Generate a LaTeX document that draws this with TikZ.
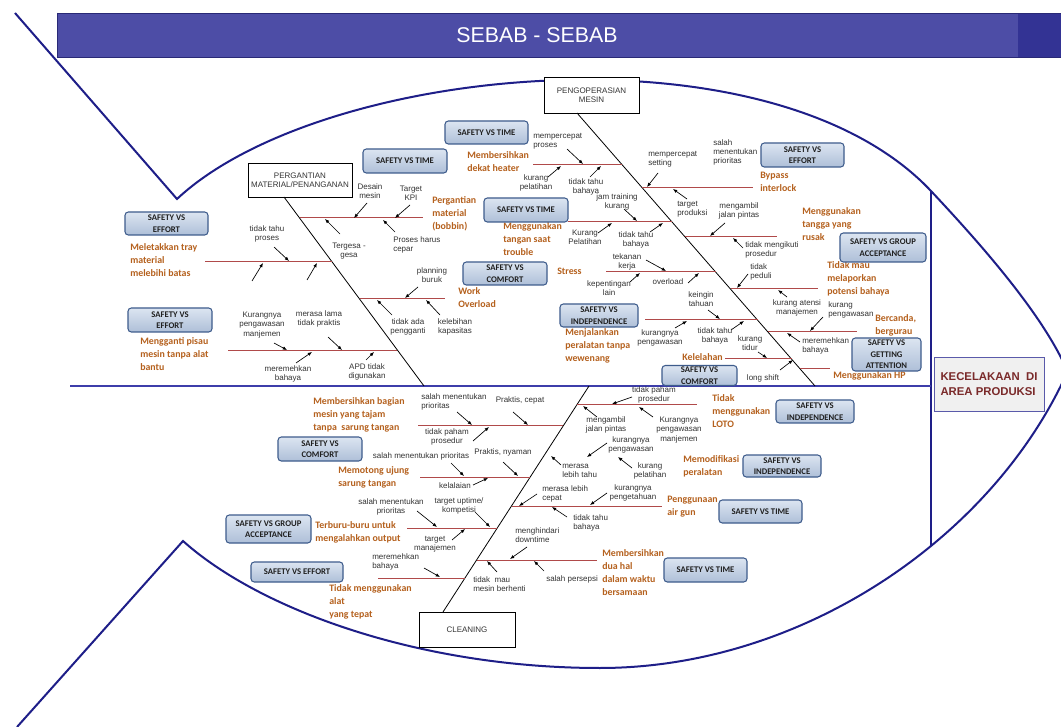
\documentclass[tikz,border=0pt]{standalone}
\usepackage{fontspec}
\setmainfont{Liberation Sans}
\newfontfamily\calfont{Carlito}
\usetikzlibrary{arrows.meta}

\definecolor{fishblue}{HTML}{1E1E88}
\definecolor{spineblue}{HTML}{3D3DAA}
\definecolor{ribred}{HTML}{B04A4A}
\definecolor{causeorange}{HTML}{B5611E}
\definecolor{boxedge}{HTML}{3E5C8C}
\definecolor{boxtop}{HTML}{DCE5F1}
\definecolor{boxbottom}{HTML}{AEBFD8}
\definecolor{bannerfill}{HTML}{4D4DA6}
\definecolor{bannerdark}{HTML}{333394}
\definecolor{headred}{HTML}{7A2A2A}
\definecolor{headedge}{HTML}{5A5AAA}
\definecolor{labelgray}{HTML}{333333}

\tikzset{
  lbl/.style={font=\fontsize{6}{7}\selectfont, text=labelgray, align=center, inner sep=0pt},
  lbll/.style={lbl, align=left, anchor=north west},
  cause/.style={font=\calfont\bfseries\fontsize{7.4}{9.75}\selectfont, text=causeorange,
    align=left, inner sep=0pt, anchor=north west},
  svbox/.style={draw=boxedge, line width=0.8pt, rounded corners=2.5pt, top color=boxtop,
    bottom color=boxbottom, font=\calfont\bfseries\fontsize{6.5}{8.6}\selectfont,
    text=black!88, align=center, inner sep=0pt},
  catbox/.style={draw=black, line width=0.7pt, fill=white, font=\fontsize{6}{7}\selectfont,
    text=labelgray, align=center, inner sep=0pt},
  pointer/.style={-{Latex[length=3.2pt,width=2.6pt]}, line width=0.5pt, black},
  ribline/.style={ribred, line width=0.75pt},
  boneline/.style={black, line width=0.6pt},
  fish/.style={fishblue, line width=1.5pt},
}

% horizontal rib: name, left x, right x, y
\newcommand\rib[4]{\coordinate (#1a) at (#2,#4); \coordinate (#1b) at (#3,#4);
  \draw[ribline] (#1a) -- (#1b);}
% small pointer arrow: name, tail x, tail y, head x, head y
\newcommand\pointto[5]{\coordinate (#1t) at (#2,#3); \coordinate (#1h) at (#4,#5);
  \draw[pointer] (#1t) -- (#1h);}
% category box: name, x, y, width px, height px, text
\newcommand\svb[6]{\node[svbox, minimum width={#4*0.75pt}, minimum height={#5*0.75pt}] (#1) at (#2,#3) {#6};}

\begin{document}
\begin{tikzpicture}[x=0.75pt, y=-0.75pt]
\useasboundingbox (0,0) rectangle (1061,727);
\fill[white] (0,0) rectangle (1061,727);

% title banner
\fill[bannerfill] (57,13) rectangle (1061,57);
\fill[bannerdark] (1018,13) rectangle (1061,57);
\draw[bannerdark!80!black, line width=0.6pt] (57,13) -- (1061,13) (57,57) -- (1061,57) (57,13) -- (57,57);
\node[font=\fontsize{16}{16}\selectfont, text=white] (title) at (537,35) {SEBAB - SEBAB};

% fish outline
\coordinate (tailtop) at (15,13);
\coordinate (tailup) at (177,199);
\coordinate (headup) at (931,191);
\coordinate (headright) at (1066,368);
\coordinate (headrightlow) at (1066,375);
\coordinate (belly) at (600,668);
\coordinate (taildown) at (183,541);
\coordinate (tailbottom) at (17,727);
\coordinate (headlow) at (931,546);
\draw[fish] (tailtop) -- (tailup) .. controls (320,65) and (770,20) .. (headup)
  .. controls (975,238) and (1040,310) .. (headright);
\draw[fish] (tailbottom) -- (taildown) .. controls (260,610) and (420,668) .. (belly)
  .. controls (800,668) and (990,540) .. (headrightlow);
\draw[fish] (headup) -- (headlow);

% spine
\coordinate (spinestart) at (70,386);
\coordinate (spineend) at (931,386);
\draw[spineblue, line width=1.1pt] (spinestart) -- (spineend);

% effect box
\node[draw=headedge, line width=0.7pt, fill=black!6, minimum width=82.5pt, minimum height=40.5pt,
  font=\bfseries\fontsize{8.5}{11.8}\selectfont, text=headred, align=left, inner sep=0pt]
  (effect) at (989,384) {KECELAKAAN\ \ DI\\AREA PRODUKSI};

% main category boxes
\node[catbox, minimum width=71.25pt, minimum height=27pt] (catop) at (591.5,95) {PENGOPERASIAN\\MESIN};
\node[catbox, minimum width=78pt, minimum height=25.5pt] (catmat) at (300,180) {PERGANTIAN\\MATERIAL/PENANGANAN};
\node[catbox, minimum width=72pt, minimum height=26.25pt] (catclean) at (467,629.5) {CLEANING};

% bones
\coordinate (opTop) at (577,113); \coordinate (opEnd) at (815,386);
\coordinate (matTop) at (284,197); \coordinate (matEnd) at (424,386);
\coordinate (clBot) at (443,612); \coordinate (clEnd) at (589,386);
\draw[boneline] (opTop) -- (opEnd);
\draw[boneline] (matTop) -- (matEnd);
\draw[boneline] (clBot) -- (clEnd);

% ribs of the machine operation bone
\rib{rA}{533}{622.3}{165}
\rib{rB}{568}{672}{222}
\rib{rC}{606}{715.6}{272}
\rib{rD}{645}{757.5}{320}
\rib{rE}{725}{791.5}{359}
\rib{rF}{642.4}{753}{188}
\rib{rG}{685}{777}{237}
\rib{rH}{730.5}{818}{289}
\rib{rI}{768}{857}{332}
\rib{rJ}{800}{830}{369}
% ribs of the material change bone
\rib{rK}{300}{423}{218}
\rib{rL}{205}{332}{262}
\rib{rM}{359.6}{445}{299}
\rib{rN}{228}{397.4}{351}
% ribs of the cleaning bone
\rib{rO}{576.7}{697}{405}
\rib{rP}{418}{563}{426}
\rib{rQ}{420}{530.2}{477}
\rib{rR}{511.5}{662}{506}
\rib{rS}{407}{497.3}{528}
\rib{rT}{476.6}{597}{560}
\rib{rU}{378}{465}{578}

% pointers, material change
\pointto{a1}{367}{203}{354}{218}
\pointto{a2}{410}{205}{395}{218}
\pointto{a3}{340}{234}{325}{219}
\pointto{a4}{395}{232}{383}{220}
\pointto{a5}{274}{247}{289}{261}
\pointto{a6}{252}{281}{263}{263}
\pointto{a7}{307}{280}{317}{263}
\pointto{a8}{418}{287}{405}{298}
\pointto{a9}{392}{315}{377}{300}
\pointto{a10}{440}{315}{426}{300}
\pointto{a11}{274}{343}{287}{350}
\pointto{a12}{328}{337}{342}{350}
\pointto{a13}{296}{363}{312}{352}
\pointto{a14}{366}{360}{374}{352}
% pointers, machine operation
\pointto{b1}{567}{149}{583}{164}
\pointto{b2}{548}{177}{561}{166}
\pointto{b3}{590}{177}{601}{166}
\pointto{b4}{624}{209}{637}{221}
\pointto{b5}{598}{233}{612}{223}
\pointto{b6}{650}{232}{663}{223}
\pointto{b7}{646}{260}{666}{271}
\pointto{b8}{630}{282}{640}{273}
\pointto{b9}{688}{283}{699}{273}
\pointto{b10}{708}{310}{720}{319}
\pointto{b11}{675}{328}{687}{321}
\pointto{b12}{731}{330}{744}{321}
\pointto{b13}{758}{352}{767}{358}
\pointto{b14}{780}{370}{793}{360}
\pointto{b15}{658}{173}{647}{187}
\pointto{b16}{687}{199}{673}{189}
\pointto{b17}{725}{223}{710}{236}
\pointto{b18}{743}{248}{733}{238}
\pointto{b19}{748}{274}{737}{288}
\pointto{b20}{787}{297}{778}{290}
\pointto{b21}{823}{317}{810}{331}
\pointto{b22}{800}{342}{787}{333}
% pointers, cleaning
\pointto{c1}{457}{412}{472}{425}
\pointto{c2}{513}{412}{528}{425}
\pointto{c3}{473}{441}{489}{427}
\pointto{c4}{451}{463}{464}{476}
\pointto{c5}{503}{462}{518}{476}
\pointto{c6}{473}{485}{488}{478}
\pointto{c7}{417}{511}{437}{527}
\pointto{c8}{475}{512}{490}{527}
\pointto{c9}{452}{540}{465}{529}
\pointto{c10}{424}{568}{440}{577}
\pointto{c11}{632}{397}{612}{404}
\pointto{c12}{597}{417}{583}{406}
\pointto{c13}{653}{417}{639}{407}
\pointto{c14}{607}{443}{587}{457}
\pointto{c15}{632}{468}{618}{457}
\pointto{c16}{561}{465}{551}{456}
\pointto{c17}{537}{494}{519}{506}
\pointto{c18}{607}{493}{590}{505}
\pointto{c19}{567}{517}{552}{507}
\pointto{c20}{527}{547}{510}{559}
\pointto{c21}{497}{572}{487}{561}
\pointto{c22}{544}{571}{534}{561}

% labels, material change
\node[lbl] (tDesain) at (370,191) {Desain\\mesin};
\node[lbl] (tKPI) at (411,193) {Target\\KPI};
\node[lbl] (tTergesa) at (349,251) {Tergesa -\\gesa};
\node[lbll] (tProses) at (393,236) {Proses harus\\cepar};
\node[lbl] (tTahuProses) at (267,234) {tidak tahu\\proses};
\node[lbl] (tPlanning) at (432,275) {planning\\buruk};
\node[lbl] (tPengganti) at (408,327) {tidak ada\\pengganti};
\node[lbl] (tKapasitas) at (455,327) {kelebihan\\kapasitas};
\node[lbl] (tKurangMan) at (262,325) {Kurangnya\\pengawasan\\manjemen};
\node[lbl] (tLama) at (319,319) {merasa lama\\tidak praktis};
\node[lbl] (tRemeh1) at (288,374) {meremehkan\\bahaya};
\node[lbl] (tAPD) at (367,372) {APD tidak\\digunakan};
% labels, machine operation
\node[lbll] (tCepatProses) at (533,133) {mempercepat\\proses};
\node[lbl] (tKurPel1) at (536,183) {kurang\\pelatihan};
\node[lbl] (tTahu1) at (586,187) {tidak tahu\\bahaya};
\node[lbl] (tJam) at (617,202) {jam training\\kurang};
\node[lbl] (tKurPel2) at (585,237) {Kurang\\Pelatihan};
\node[lbl] (tTahu2) at (636,240) {tidak tahu\\bahaya};
\node[lbl] (tTekanan) at (627,262) {tekanan\\kerja};
\node[lbl] (tKepentingan) at (609,288) {kepentingan\\lain};
\node[lbl] (tOverload) at (668,282) {overload};
\node[lbl] (tKeingin) at (701,299) {keingin\\tahuan};
\node[lbl] (tKurPeng1) at (660,338) {kurangnya\\pengawasan};
\node[lbl] (tTahu3) at (715,336) {tidak tahu\\bahaya};
\node[lbl] (tTidur) at (750,343) {kurang\\tidur};
\node[lbl] (tShift) at (763,378) {long shift};
\node[lbll] (tSetting) at (648,151) {mempercepat\\setting};
\node[lbll] (tProduksi) at (677,201) {target\\produksi};
\node[lbll] (tPrioritas1) at (713,139) {salah\\menentukan\\prioritas};
\node[lbl] (tPintas1) at (739,211) {mengambil\\jalan pintas};
\node[lbll] (tProsedur1) at (745,241) {tidak mengikuti\\prosedur};
\node[lbll] (tPeduli) at (750,263) {tidak\\peduli};
\node[lbl] (tAtensi) at (797,308) {kurang atensi\\manajemen};
\node[lbll] (tKurPeng2) at (828,301) {kurang\\pengawasan};
\node[lbll] (tRemeh2) at (802,337) {meremehkan\\bahaya};
% labels, cleaning
\node[lbll] (tPrioritas2) at (421,393) {salah menentukan\\prioritas};
\node[lbl] (tPraktisCepat) at (520,400) {Praktis, cepat};
\node[lbl] (tPaham1) at (447,437) {tidak paham\\prosedur};
\node[lbl] (tPrioritas3) at (421,456) {salah menentukan prioritas};
\node[lbl] (tPraktisNyaman) at (503,452) {Praktis, nyaman};
\node[lbl] (tLalai) at (455,486) {kelalaian};
\node[lbl] (tPrioritas4) at (391,507) {salah menentukan\\prioritas};
\node[lbl] (tUptime) at (459,506) {target uptime/\\kompetisi};
\node[lbl] (tTargetMan) at (435,544) {target\\manajemen};
\node[lbll] (tRemeh3) at (372,553) {meremehkan\\bahaya};
\node[lbl] (tPaham2) at (654,395) {tidak paham\\prosedur};
\node[lbl] (tPintas2) at (606,425) {mengambil\\jalan pintas};
\node[lbl] (tKurMan2) at (679,430) {Kurangnya\\pengawasan\\manjemen};
\node[lbl] (tKurPeng3) at (631,445) {kurangnya\\pengawasan};
\node[lbl] (tKurPel3) at (650,471) {kurang\\pelatihan};
\node[lbll] (tLebihTahu) at (562,464) {merasa\\lebih tahu};
\node[lbll] (tLebihCepat) at (542,485) {merasa lebih\\cepat};
\node[lbl] (tPengetahuan) at (633,493) {kurangnya\\pengetahuan};
\node[lbll] (tTahu4) at (573,514) {tidak tahu\\bahaya};
\node[lbll] (tDowntime) at (515,527) {menghindari\\downtime};
\node[lbll] (tBerhenti) at (473,576) {tidak\ \ mau\\mesin berhenti};
\node[lbll] (tPersepsi) at (546,575) {salah persepsi};

% unsafe acts
\node[cause] (cTray) at (130,243) {Meletakkan tray\\material\\melebihi batas};
\node[cause] (cPisau) at (140,337) {Mengganti pisau\\mesin tanpa alat\\bantu};
\node[cause] (cBobbin) at (432,196) {Pergantian\\material\\(bobbin)};
\node[cause] (cHeater) at (467,151) {Membersihkan\\dekat heater};
\node[cause] (cTangan) at (503,222) {Menggunakan\\tangan saat\\trouble};
\node[cause] (cOverload) at (458,287) {Work\\Overload};
\node[cause] (cStress) at (557,268) {Stress};
\node[cause] (cWewenang) at (565,328) {Menjalankan\\peralatan tanpa\\wewenang};
\node[cause, anchor=north east] (cLelah) at (723,353) {Kelelahan};
\node[cause] (cBypass) at (760,172) {Bypass\\interlock};
\node[cause] (cTangga) at (802,207) {Menggunakan\\tangga yang\\rusak};
\node[cause] (cLapor) at (827,261) {Tidak mau\\melaporkan\\potensi bahaya};
\node[cause] (cCanda) at (875,314) {Bercanda,\\bergurau};
\node[cause] (cHP) at (833,371) {Menggunakan HP};
\node[cause] (cTajam) at (313,397) {Membersihkan bagian\\mesin yang tajam\\tanpa\ \ sarung tangan};
\node[cause] (cUjung) at (338,466) {Memotong ujung\\sarung tangan};
\node[cause] (cBuru) at (315,521) {Terburu-buru untuk\\mengalahkan output};
\node[cause] (cAlat) at (329,584) {Tidak menggunakan\\alat\\yang tepat};
\node[cause] (cLOTO) at (712,394) {Tidak\\menggunakan\\LOTO};
\node[cause] (cModif) at (683,455) {Memodifikasi\\peralatan};
\node[cause] (cAirgun) at (667,496) {Penggunaan\\air gun};
\node[cause] (cDuaHal) at (602,549) {Membersihkan\\dua hal\\dalam waktu\\bersamaan};

% conflict category boxes
\svb{sEffort1}{166.5}{223.5}{83}{23}{SAFETY VS\\EFFORT}
\svb{sEffort2}{170}{320}{84}{24}{SAFETY VS\\EFFORT}
\svb{sTime1}{405}{161}{84}{24}{SAFETY VS TIME}
\svb{sTime2}{486.5}{132.5}{83}{23}{SAFETY VS TIME}
\svb{sTime3}{526}{210}{84}{24}{SAFETY VS TIME}
\svb{sComfort1}{505}{273.5}{84}{23}{SAFETY VS\\COMFORT}
\svb{sIndep1}{599}{315.5}{78}{23}{SAFETY VS\\INDEPENDENCE}
\svb{sComfort2}{699.5}{375.5}{75}{20}{SAFETY VS\\COMFORT}
\svb{sEffort3}{802.5}{155}{83}{24}{SAFETY VS\\EFFORT}
\svb{sGroup1}{883}{247.5}{86}{29}{SAFETY VS GROUP\\ACCEPTANCE}
\svb{sAttention}{886.5}{354.5}{69}{33}{SAFETY VS\\GETTING\\ATTENTION}
\svb{sComfort3}{320}{449}{84}{24}{SAFETY VS\\COMFORT}
\svb{sIndep2}{815}{411.5}{78}{23}{SAFETY VS\\INDEPENDENCE}
\svb{sIndep3}{782}{466}{78}{22}{SAFETY VS\\INDEPENDENCE}
\svb{sTime4}{760.5}{511.5}{83}{23}{SAFETY VS TIME}
\svb{sGroup2}{268.5}{529}{85}{28}{SAFETY VS GROUP\\ACCEPTANCE}
\svb{sEffort4}{297}{572}{92}{20}{SAFETY VS EFFORT}
\svb{sTime5}{705.5}{570}{83}{24}{SAFETY VS TIME}
\end{tikzpicture}
\end{document}
